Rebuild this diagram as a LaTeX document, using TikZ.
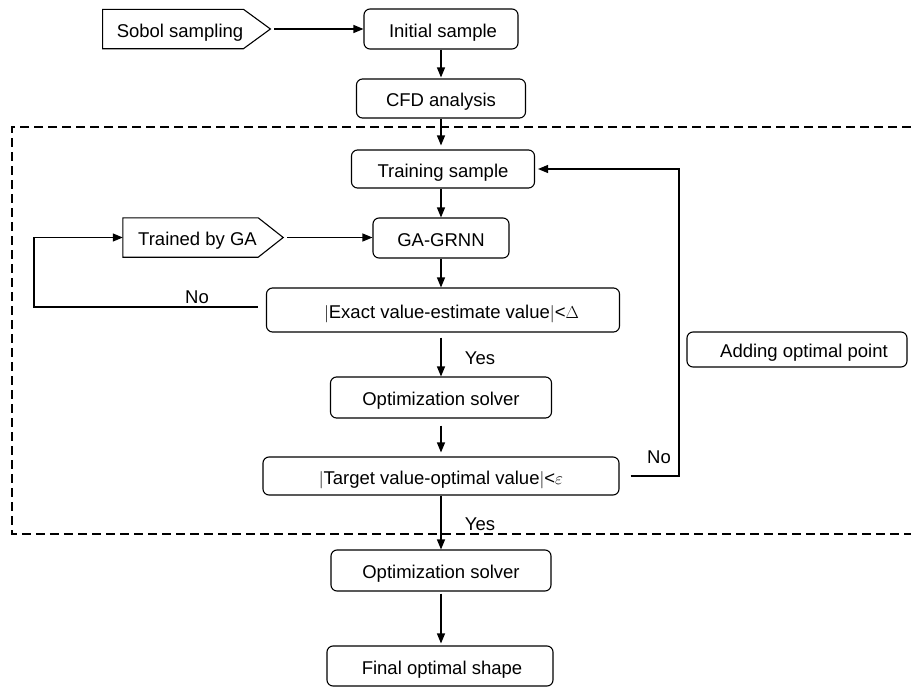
\documentclass[tikz,border=0pt]{standalone}
\usepackage{fontspec}
\setmainfont{Liberation Sans}
\usetikzlibrary{arrows.meta}
\tikzset{
  txt/.style={font=\fontsize{18.5}{20}\selectfont},
  box/.style={txt, draw, rounded corners=6pt, line width=1.1pt, inner sep=2pt, text height=18pt, text depth=1.8pt},
  sigbody/.style={txt, inner sep=0pt, text height=18pt, text depth=1.8pt},
  sigline/.style={line width=1.1pt, line join=miter},
  arr/.style={line width=1.1pt, -{Triangle[length=10pt,width=8pt]}},
  lbl/.style={txt, inner sep=0pt},
  frame/.style={line width=1.1pt, dash pattern=on 9pt off 5pt}
}
\begin{document}
\begin{tikzpicture}[x=1pt,y=-1pt]
\useasboundingbox (0,0) rectangle (911,688);
% frame
\draw[frame] (911,127) -- (12,127) -- (12,534) -- (911,534);
% signal-shaped nodes (body + pointer drawn as outline)
\node[sigbody, minimum width=140pt, minimum height=39pt] (sobol) at (173,29) {\hspace{14pt}Sobol sampling};
\coordinate (sobtip) at ([xshift=27pt]sobol.east);
\draw[sigline] (sobol.north west) -- (sobol.north east) -- (sobtip) -- (sobol.south east) -- (sobol.south west) -- cycle;
\node[sigbody, minimum width=135pt, minimum height=39pt] (trained) at (190.5,237.5) {\hspace{14pt}Trained by GA};
\coordinate (trtip) at ([xshift=25pt]trained.east);
\draw[sigline] (trained.north west) -- (trained.north east) -- (trtip) -- (trained.south east) -- (trained.south west) -- cycle;
% boxes
\node[box, minimum width=154pt, minimum height=40pt] (init) at (441,29) {\hspace{4pt}Initial sample};
\node[box, minimum width=169pt, minimum height=39pt] (cfd) at (441,98.5) {CFD analysis};
\node[box, minimum width=183pt, minimum height=38pt] (train) at (443,169) {Training sample};
\node[box, minimum width=136pt, minimum height=40pt] (grnn) at (441,238) {GA-GRNN};
\node[box, minimum width=353pt, minimum height=44pt] (exact) at (443,310) {\hspace{17pt}$|$Exact value-estimate value$|$<$\Delta$};
\node[box, minimum width=221pt, minimum height=41pt] (opt1) at (441,397.5) {Optimization solver};
\node[box, minimum width=356pt, minimum height=38pt] (target) at (441,476) {$|$Target value-optimal value$|$<$\varepsilon$};
\node[box, minimum width=220pt, minimum height=41pt] (opt2) at (441,570.5) {Optimization solver};
\node[box, minimum width=226pt, minimum height=40pt] (final) at (440,666) {\hspace{4pt}Final optimal shape};
\node[box, minimum width=220pt, minimum height=35pt] (adding) at (797,349.5) {\hspace{14pt}Adding optimal point};
% labels
\node[lbl] (no1) at (197,297) {No};
\node[lbl] (yes1) at (480,358) {Yes};
\node[lbl] (no2) at (659,457) {No};
\node[lbl] (yes2) at (480,524) {Yes};
% coordinates
\coordinate (lc) at (34,307);
\coordinate (rc) at (679,476);
% connectors
\draw[arr, shorten <=4pt] (sobtip) -- (sobtip -| init.west);
\draw[arr, shorten >=1pt] (init.south) -- (init.south |- cfd.north);
\draw[arr, shorten >=4pt] (cfd.south) -- (cfd.south |- train.north);
\draw[arr] (init.south |- train.south) -- (init.south |- grnn.north);
\draw[arr, shorten <=4pt] (trtip) -- (trtip -| grnn.west);
\draw[arr] (grnn.south) -- (grnn.south |- exact.north);
\draw[arr, shorten <=5pt] (grnn.south |- exact.south) -- (grnn.south |- opt1.north);
\draw[arr, shorten <=7pt, shorten >=4pt] (opt1.south) -- (opt1.south |- target.north);
\draw[arr] (target.south) -- (target.south |- opt2.north);
\draw[arr, shorten <=2pt, shorten >=2pt] (opt2.south) -- (opt2.south |- final.north);
\draw[arr] ([xshift=-8pt]exact.west |- lc) -- (lc) |- (trained.west);
\draw[arr, shorten >=3pt] ([xshift=11pt]target.east) -- (rc) |- (train.east);
\end{tikzpicture}
\end{document}
